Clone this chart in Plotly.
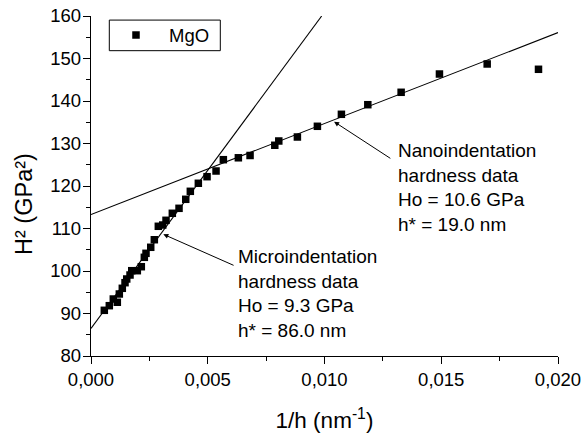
import plotly.graph_objects as go

# Measured data: 1/h (nm^-1) and H^2 (GPa^2)
inv_h = [0.000570, 0.000784, 0.000955, 0.001127, 0.001213, 0.001341, 0.001457,
         0.001530, 0.001671, 0.001744, 0.001984, 0.002155, 0.002284, 0.002356,
         0.002558, 0.002712, 0.002883, 0.003072, 0.003213, 0.003483, 0.003770,
         0.004057, 0.004254, 0.004597, 0.004970, 0.005355, 0.005668, 0.006311,
         0.006812, 0.007871, 0.008042, 0.008839, 0.009696, 0.010724, 0.011855,
         0.013282, 0.014923, 0.016967, 0.019165]
h_squared = [90.75, 91.84, 93.41, 92.64, 94.59, 95.93, 97.25, 98.12, 99.06, 100.07,
             100.07, 101.01, 103.22, 104.16, 105.58, 107.36, 110.52, 110.82, 111.93,
             113.58, 114.75, 116.87, 118.75, 120.64, 122.19, 123.53, 126.19, 126.64,
             127.18, 129.58, 130.59, 131.53, 134.05, 136.87, 139.13, 142.05, 146.35,
             148.71, 147.46]

# Linear fits (end points)
nano_fit_x = [0.0, 0.0200]
nano_fit_y = [113.3, 156.1]
micro_fit_x = [0.0, 0.00988]
micro_fit_y = [86.5, 160.0]

x_ticks = [0.000, 0.005, 0.010, 0.015, 0.020]
x_tick_labels = ["0,000", "0,005", "0,010", "0,015", "0,020"]
y_ticks = [80, 90, 100, 110, 120, 130, 140, 150, 160]

nano_text = "Nanoindentation<br>hardness data<br>Ho = 10.6 GPa<br>h* = 19.0 nm"
micro_text = "Microindentation<br>hardness data<br>Ho = 9.3 GPa<br>h* = 86.0 nm"
legend_label = "MgO"

FONT = "Liberation Sans, Arial, sans-serif"

fig = go.Figure()
fig.add_trace(go.Scatter(x=nano_fit_x, y=nano_fit_y, mode="lines",
                         line=dict(color="black", width=1.1), showlegend=False,
                         hoverinfo="skip"))
fig.add_trace(go.Scatter(x=micro_fit_x, y=micro_fit_y, mode="lines",
                         line=dict(color="black", width=1.1), showlegend=False,
                         hoverinfo="skip"))
fig.add_trace(go.Scatter(x=inv_h, y=h_squared, mode="markers", name=legend_label,
                         showlegend=False,
                         marker=dict(symbol="square", size=7.5, color="black",
                                     line=dict(width=0))))

axis_common = dict(showline=True, linecolor="black", linewidth=1.3, mirror=False,
                   showgrid=False, zeroline=False, ticks="outside", ticklen=7,
                   tickwidth=1.2, tickcolor="black", ticklabeloverflow="allow",
                   tickfont=dict(family=FONT, size=18.5, color="black"))

fig.update_layout(
    width=582, height=433,
    margin=dict(l=91, r=24, t=16, b=77, autoexpand=False),
    paper_bgcolor="white", plot_bgcolor="white",
    font=dict(family=FONT, color="black"),
    showlegend=False,
    xaxis=dict(range=[0, 0.020], tickvals=x_ticks, ticktext=x_tick_labels,
               minor=dict(dtick=0.0025, ticks="outside", ticklen=3.5,
                          tickwidth=1.2, tickcolor="black"),
               title=dict(text="1/h (nm<sup>-1</sup>)",
                          font=dict(family=FONT, size=22.5, color="black"),
                          standoff=23),
               **axis_common),
    yaxis=dict(range=[80, 160], tickvals=y_ticks, ticklabelstandoff=-2,
               minor=dict(dtick=5, ticks="outside", ticklen=3.5,
                          tickwidth=1.2, tickcolor="black"),
               **axis_common),
)

# legend box drawn by hand
fig.add_shape(type="rect", xref="paper", yref="paper",
              x0=0.0392, x1=0.2769, y0=0.898, y1=0.988,
              line=dict(color="black", width=1), fillcolor="white", layer="above")
fig.add_shape(type="rect", xref="paper", yref="paper",
              x0=0.0883, x1=0.1044, y0=0.9331, y1=0.9551,
              line=dict(width=0), fillcolor="black", layer="above")
fig.add_annotation(text=legend_label, xref="paper", yref="paper",
                   x=0.1621, y=0.9441, showarrow=False, xanchor="left",
                   yanchor="middle", font=dict(family=FONT, size=18.5, color="black"))

# y-axis title
fig.add_annotation(text="H² (GPa²)", xref="paper", yref="paper",
                   x=-0.145, y=0.448, textangle=-90, showarrow=False,
                   font=dict(family=FONT, size=23.5, color="black"),
                   xanchor="center", yanchor="middle")

# Arrows
fig.add_annotation(x=0.010411, y=135.13, ax=0.012884, ay=126.28,
                   xref="x", yref="y", axref="x", ayref="y", text="",
                   showarrow=True, arrowhead=2, arrowsize=1, arrowwidth=1,
                   arrowcolor="black")
fig.add_annotation(x=0.003098, y=108.64, ax=0.006170, ay=101.18,
                   xref="x", yref="y", axref="x", ayref="y", text="",
                   showarrow=True, arrowhead=2, arrowsize=1, arrowwidth=1,
                   arrowcolor="black")

# Text labels
fig.add_annotation(x=0.013067, y=119.7, xref="x", yref="y", text=nano_text,
                   showarrow=False, align="left", xanchor="left", yanchor="middle",
                   font=dict(family=FONT, size=19, color="black"))
fig.add_annotation(x=0.006225, y=94.75, xref="x", yref="y", text=micro_text,
                   showarrow=False, align="left", xanchor="left", yanchor="middle",
                   font=dict(family=FONT, size=19, color="black"))

fig.write_html("out.html", config={"displayModeBar": False},
               post_script="document.body.style.margin='0px';"
                           "document.body.style.overflow='hidden';")
